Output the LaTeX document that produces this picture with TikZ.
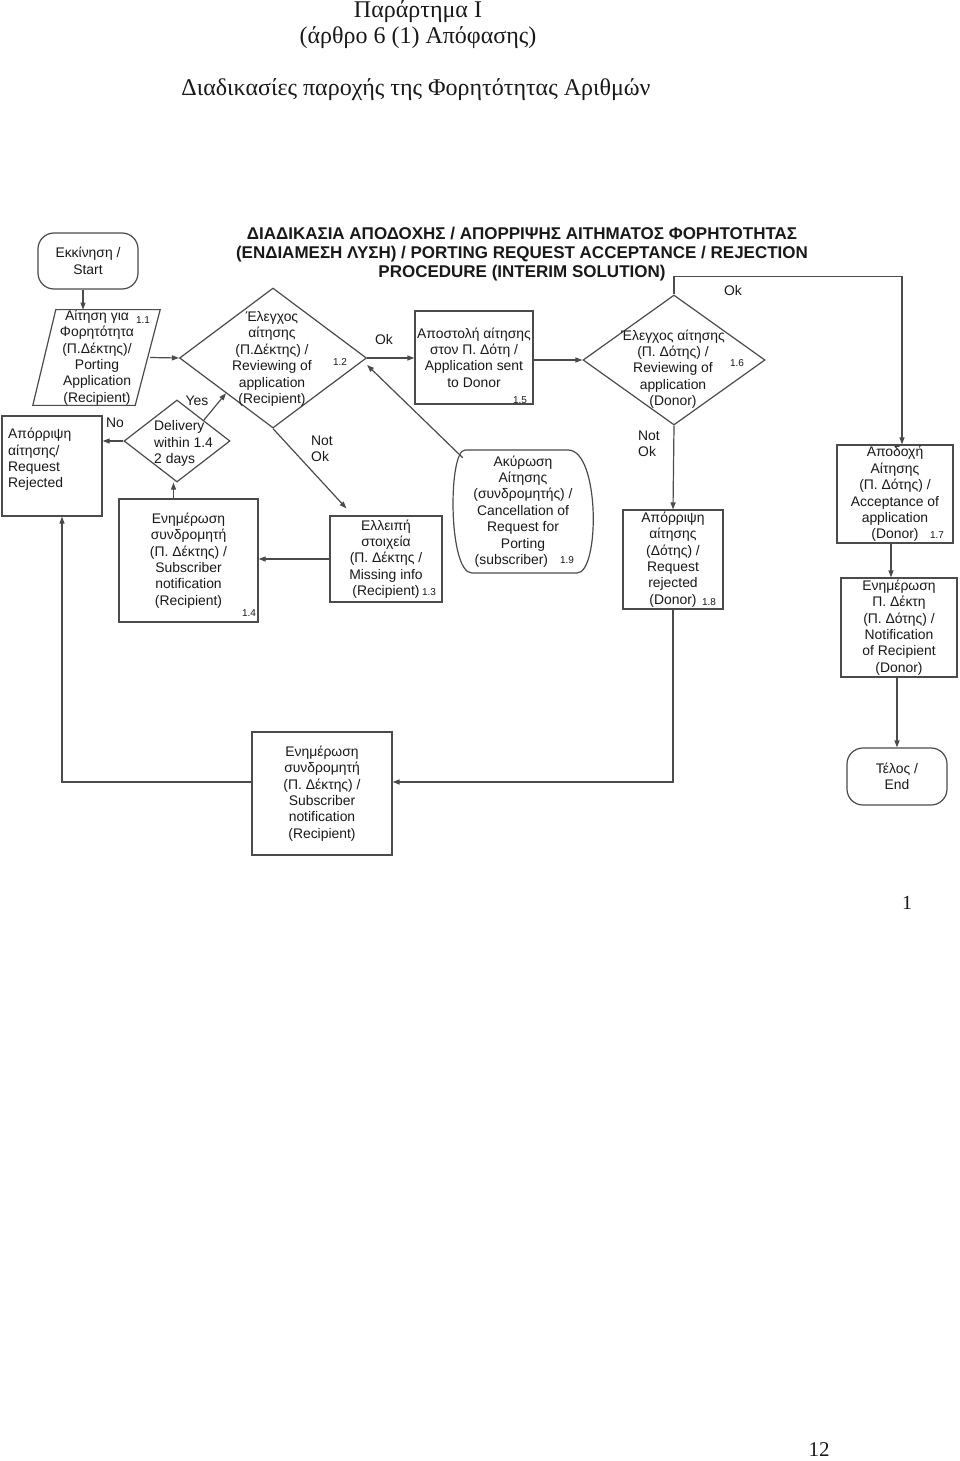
\documentclass[tikz,border=0pt]{standalone}
\usepackage{fontspec}
\setmainfont{Liberation Sans}
\newfontfamily\serifgr{Liberation Serif}
\usetikzlibrary{shapes.geometric,arrows.meta,calc}
\definecolor{linec}{RGB}{75,75,75}
\definecolor{txtc}{RGB}{25,25,25}
\begin{document}
\begin{tikzpicture}[x=1pt,y=-1pt,
  line/.style={draw=linec, line width=1.2pt},
  arr/.style={line, -{Triangle[length=7pt,width=5pt]}},
  txt/.style={font=\fontsize{13.9}{16.4}\selectfont, align=center, inner sep=0pt, text=txtc},
  box/.style={txt, draw=linec, line width=1.2pt, rectangle},
  rbox/.style={box, rounded corners=16pt},
  dia/.style={draw=linec, line width=1.2pt, diamond, inner sep=0pt},
  num/.style={font=\fontsize{10}{11}\selectfont, inner sep=0pt, text=txtc},
  lab/.style={txt, align=left},
  ttl/.style={font=\serifgr\fontsize{24}{26}\selectfont, align=center, inner sep=0pt, text=txtc},
  hdr/.style={font=\bfseries\fontsize{17}{19}\selectfont, align=center, inner sep=0pt, text=txtc}
]
\useasboundingbox[fill=white] (0,0) rectangle (960,1461);

% titles
\node[ttl] (t1) at (418,25) {Παράρτημα Ι\\(άρθρο 6 (1) Απόφασης)};
\node[ttl] (t2) at (416,90) {Διαδικασίες παροχής της Φορητότητας Αριθμών};
\node[hdr] (hd) at (522,254) {ΔΙΑΔΙΚΑΣΙΑ ΑΠΟΔΟΧΗΣ / ΑΠΟΡΡΙΨΗΣ ΑΙΤΗΜΑΤΟΣ ΦΟΡΗΤΟΤΗΤΑΣ\\(ΕΝΔΙΑΜΕΣΗ ΛΥΣΗ) / PORTING REQUEST ACCEPTANCE / REJECTION\\PROCEDURE (INTERIM SOLUTION)};

% start
\node[rbox, minimum width=100, minimum height=56] (start) at (88,261) {Εκκίνηση /\\Start};

% parallelogram 1.1
\node[txt, minimum width=110, minimum height=95] (p11) at (97,357.5) {Αίτηση για\\Φορητότητα\\(Π.Δέκτης)/\\Porting\\Application\\(Recipient)};
\draw[line] ([xshift=14pt]p11.north west) -- ([xshift=8pt]p11.north east) -- ([xshift=-17pt]p11.south east) -- ([xshift=-9pt]p11.south west) -- cycle;
\node[num] (n11) at (143,320) {1.1};

% diamond 1.2
\node[dia, minimum width=187, minimum height=140] (d12) at (273,358) {};
\node[txt] (t12) at (272,359) {Έλεγχος\\αίτησης\\(Π.Δέκτης) /\\Reviewing of\\application\\(Recipient)};
\node[num] (n12) at (340,362) {1.2};

% diamond 1.4
\node[dia, minimum width=106, minimum height=82] (d14) at (177,441) {};
\node[lab, anchor=west] (t14) at (154,443.5) {Delivery\\within 1.4\\2 days};
\node[txt] (yes) at (197,401) {Yes};
\node[txt] (no) at (115,423) {No};

% rejected
\node[box, minimum width=100, minimum height=100] (rej) at (52,466) {};
\node[lab, anchor=west] (trej) at (8,459.5) {Απόρριψη\\αίτησης/\\Request\\Rejected};

% box 1.4
\node[box, minimum width=139, minimum height=123] (b14) at (188.5,560.5) {Ενημέρωση\\συνδρομητή\\(Π. Δέκτης) /\\Subscriber\\notification\\(Recipient)};
\node[num] (n14) at (249,613) {1.4};

% box 1.3
\node[box, minimum width=112, minimum height=86] (b13) at (386,559) {Ελλειπή\\στοιχεία\\(Π. Δέκτης /\\Missing info\\(Recipient)};
\node[num] (n13) at (429,592) {1.3};
\node[lab] (notok1) at (322,449) {Not\\Ok};
\node[txt] (ok1) at (384,340) {Ok};

% box 1.5
\node[box, minimum width=118, minimum height=93] (b15) at (474,357.5) {Αποστολή αίτησης\\στον Π. Δότη /\\Application sent\\to Donor};
\node[num] (n15) at (520,400) {1.5};

% cancellation 1.9
\node[txt, minimum width=140, minimum height=123] (c19) at (523,511.5) {Ακύρωση\\Αίτησης\\(συνδρομητής) /\\Cancellation of\\Request for\\Porting\\(subscriber)\phantom{ 1.9}};
\node[num] (n19) at (567,560) {1.9};
\draw[line] (465,450) -- (568,450) .. controls (600,450) and (600,573) .. (577,573) -- (472,573) .. controls (448,573) and (448,450) .. (465,450);

% diamond 1.6
\node[dia, minimum width=182, minimum height=130] (d16) at (674,360) {};
\node[txt] (t16) at (673,369) {Έλεγχος αίτησης\\(Π. Δότης) /\\Reviewing of\\application\\(Donor)};
\node[num] (n16) at (737,363) {1.6};
\node[txt] (ok2) at (733,291) {Ok};
\node[lab] (notok2) at (649,444) {Not\\Ok};

% box 1.8
\node[box, minimum width=100, minimum height=99] (b18) at (673,559.5) {Απόρριψη\\αίτησης\\(Δότης) /\\Request\\rejected\\(Donor)};
\node[num] (n18) at (709,602) {1.8};

% box 1.7
\node[box, minimum width=116, minimum height=98] (b17) at (895,494) {Αποδοχή\\Αίτησης\\(Π. Δότης) /\\Acceptance of\\application\\(Donor)};
\node[num] (n17) at (937,535) {1.7};

% notification recipient
\node[box, minimum width=116, minimum height=99] (nr) at (899,627.5) {Ενημέρωση\\Π. Δέκτη\\(Π. Δότης) /\\Notification\\of Recipient\\(Donor)};

% end
\node[rbox, minimum width=100, minimum height=57] (end) at (897,776.5) {Τέλος /\\End};

% bottom subscriber notification
\node[box, minimum width=140, minimum height=123] (sn) at (322,793.5) {Ενημέρωση\\συνδρομητή\\(Π. Δέκτης) /\\Subscriber\\notification\\(Recipient)};

% page numbers
\node[ttl, font=\serifgr\fontsize{20}{24}\selectfont] (pg1) at (907,903) {1};
\node[ttl, font=\serifgr\fontsize{21}{24}\selectfont] (pg12) at (819,1450) {12};

% connectors
\draw[arr] ([xshift=-5pt]start.south) -- ([xshift=-5pt]start.south |- p11.north);
\draw[arr] ([xshift=-2pt]p11.east) -- (d12.west);
\draw[arr] (d14.north east) -- (d12.south west);
\draw[arr] (d14.west) -- (rej.east |- d14.west);
\draw[arr] ([xshift=-15pt]b14.north) -- ([xshift=-15pt]b14.north |- d14.south);
\draw[arr] (b13.west) -- (b14.east |- b13.west);
\draw[arr] (d12.south) -- ([xshift=17pt,yshift=7pt]b13.north west);
\draw[arr] (d12.east) -- (b15.west |- d12.east);
\draw[arr] ([xshift=10pt,yshift=-8pt]c19.north west) -- ([yshift=-7pt]d12.east);
\draw[arr] (b15.east |- d16.west) -- (d16.west);
\draw[arr] (d16.north) -- ++(0,-18) -| ([xshift=7pt]b17.north);
\draw[arr] (d16.south) -- (b18.north);
\draw[arr] ([xshift=-4pt]b17.south) -- ([xshift=-4pt]b17.south |- nr.north);
\draw[arr] (nr.south -| end.north) -- (end.north);
\draw[arr] (b18.south) |- ([yshift=11.5pt]sn.east);
\draw[arr] ([yshift=11.5pt]sn.west) -| ([xshift=10pt]rej.south);
\end{tikzpicture}
\end{document}
